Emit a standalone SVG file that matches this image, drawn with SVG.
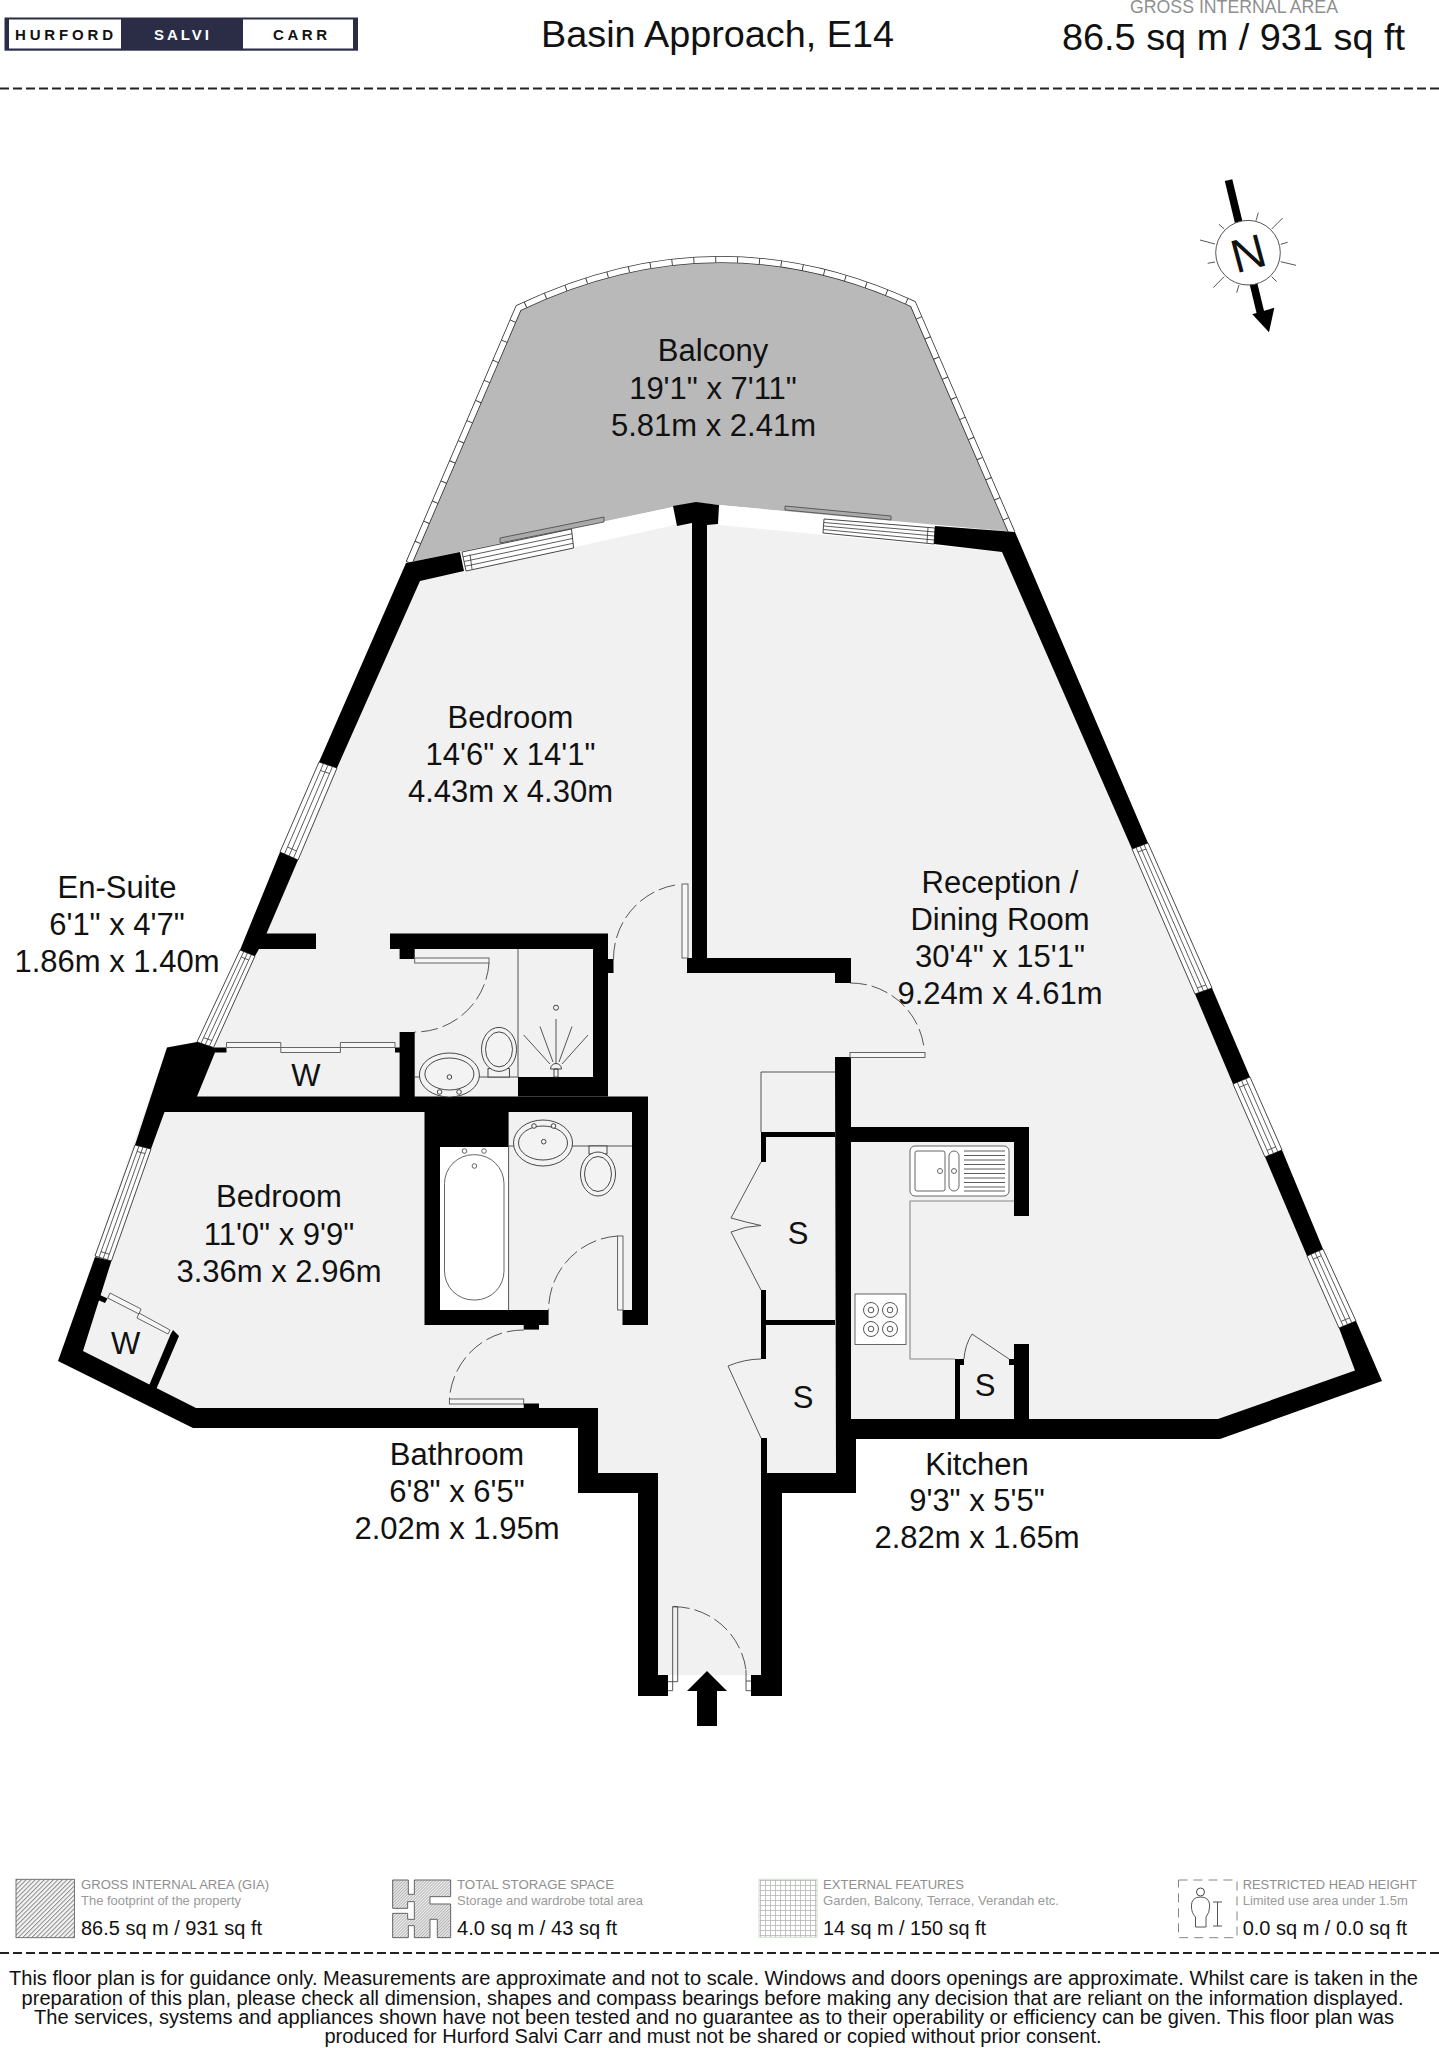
<svg xmlns="http://www.w3.org/2000/svg" width="1439" height="2048" viewBox="0 0 1439 2048">
<style>
text{font-family:"Liberation Sans",Arial,sans-serif;fill:#111}
.room{font-size:31px;text-anchor:middle}
.wall{fill:#000;stroke:none}
.win{fill:#fff;stroke:#333;stroke-width:.9}
.wl{fill:none;stroke:#333;stroke-width:.8}
.leaf{fill:#f6f6f6;stroke:#555;stroke-width:.9}
.arc{fill:none;stroke:#444;stroke-width:.9;stroke-dasharray:17 5}
.thin{fill:none;stroke:#444;stroke-width:.9}
.fx{fill:#f3f3f3;stroke:#333;stroke-width:.9}
.fw{fill:#fff;stroke:#555;stroke-width:.9}
.cnt{fill:none;stroke:#888;stroke-width:1.1}
.dash{fill:none;stroke:#222;stroke-width:2.2;stroke-dasharray:9 4}
.lh{font-size:13.2px;fill:#8f8f8f}
.ls{font-size:12.4px;fill:#9a9a9a}
.lv{font-size:19.6px}
.foot{font-size:20px;text-anchor:middle}
.logo{font-weight:bold;font-size:15px}
</style>
<defs>
<pattern id="hatch" width="3.2" height="3.2" patternUnits="userSpaceOnUse" patternTransform="rotate(-45)"><rect width="3.2" height="3.2" fill="#f4f4f4"/><rect width="3.2" height="1" fill="#8a8a8a"/></pattern>
<pattern id="grid" width="5" height="5" patternUnits="userSpaceOnUse"><rect width="5" height="5" fill="#fff"/><path d="M0 .5H5M.5 0V5" stroke="#b5b5b5" stroke-width=".8"/></pattern>
</defs>

<g id="header">
<rect x="4.500" y="17.500" width="353.500" height="33.200" fill="#2a2d45"/>
<rect x="9" y="19.500" width="112" height="29" fill="#fff"/>
<rect x="243" y="19.500" width="110" height="29" fill="#fff"/>
<text class="logo" x="15" y="39.500" textLength="98" lengthAdjust="spacing">HURFORD</text>
<text class="logo" x="154" y="39.500" textLength="55" lengthAdjust="spacing" style="fill:#fff">SALVI</text>
<text class="logo" x="273" y="39.500" textLength="54" lengthAdjust="spacing">CARR</text>
<text x="541" y="46.500" font-size="36.500" textLength="353" lengthAdjust="spacingAndGlyphs">Basin Approach, E14</text>
<text x="1130" y="13" font-size="17.500" textLength="208" lengthAdjust="spacingAndGlyphs" style="fill:#8f8f8f">GROSS INTERNAL AREA</text>
<text x="1062" y="49.500" font-size="37" textLength="343" lengthAdjust="spacingAndGlyphs">86.5 sq m / 931 sq ft</text>
<line class="dash" x1="0" y1="88.500" x2="1439" y2="88.500"/>
</g>

<g id="compass">
<path d="M1224.800 181L1232.300 179.200L1265 315L1257.500 317Z" fill="#000"/>
<path d="M1252.300 314.300L1274.300 307.700L1269 332.300Z" fill="#000"/>
<circle cx="1248" cy="252.700" r="32.300" fill="#fff" stroke="#555" stroke-width="1"/>
<path class="thin" d="M1282.700 218L1271.700 229M1296 265.300L1280.700 261.700M1200 240L1215 244M1213.300 287.700L1224 276.700M1258.300 212.700L1256 220.700M1287.700 242.300L1280.700 244.300M1276.700 281.700L1271.700 276.700M1236.700 292.700L1239 285M1207.700 263.300L1215 262M1219 224.300L1224.300 229"/>
<text transform="translate(1248 252.700) rotate(-15)" y="17" text-anchor="middle" font-size="47">N</text>
</g>

<g id="balcony">
<path d="M412 563L520 310Q718 215.500 912 307L1009 533L719 505L696 503L673 507Z" fill="#b9b9b9"/>
<path id="rail" d="M409 563L518.500 308Q717 213 913 304L1012 533" fill="none" stroke="#333" stroke-width="7"/>
<path d="M409 563L518.500 308Q717 213 913 304L1012 533" fill="none" stroke="#fff" stroke-width="5.400"/>
<path d="M409 563L518.500 308Q717 213 913 304L1012 533" fill="none" stroke="#333" stroke-width="6" stroke-dasharray=".9 21"/>
<text class="room" x="713" y="361">Balcony</text>
<text class="room" x="713" y="398.500">19'1" x 7'11"</text>
<text class="room" x="713.500" y="435.500">5.81m x 2.41m</text>
</g>

<g id="floor">
<path d="M406 563L673 507L696 503L719 505L1015 532L1382 1381L1220 1439L856 1439L856 1493L782 1493L782 1675L638 1675L638 1493L578 1493L578 1428L193 1428L58 1361L167 1047L197 1042Z" fill="#fff"/>
<path d="M420 581L675 525L719 525L1002 552L1382 1381L1220 1439L856 1439L856 1493L782 1493L782 1675L638 1675L638 1493L578 1493L578 1428L193 1428L58 1361L167 1047L197 1042Z" fill="#f1f1f1"/>
<rect x="440" y="1147" width="68.600" height="163" fill="#fff"/>
</g>

<g id="windows">
<path class="win" d="M462 552L571.500 529L573.600 548L466 571Z"/>
<path class="wl" d="M463 556.800L572 533.800M464 561.500L572.500 538.500M465 566.300L573 543.300M470 554.500L472 569"/>
<path class="win" d="M824 519L935 528L934 544L823 533Z"/>
<path class="wl" d="M824 522.500L935 532M824 526L934.500 536M823.500 529.500L934 540M928 527.500L927 543"/>
<path d="M500 538L604 517L604 522L500 543Z" fill="#aaa" stroke="#444" stroke-width=".8"/>
<path d="M785 506L891 516L891 520L785 510Z" fill="#aaa" stroke="#444" stroke-width=".8"/>
<path class="win" d="M319 762L280 852L298 860L337 768Z"/>
<path class="wl" d="M323.500 763.500L284.500 854M328 765L289 856M332.500 766.500L293.500 858M320.500 770.500L329.500 773.500M287.500 847L296.500 851"/>
<path class="win" d="M240 950L197 1042L213.500 1047.500L255 956Z"/>
<path class="wl" d="M243.800 951.500L201 1043.200M247.500 953L205.300 1044.600M251.300 954.500L209.400 1046M241.200 957L248.700 960M203.500 1037.700L211.900 1040.500"/>
<path class="win" d="M135 1145L95 1256L111.400 1261L151 1149Z"/>
<path class="wl" d="M139 1146L99 1257.300M143 1147L103.200 1258.500M147 1148L107.300 1259.800M137 1151.500L145 1153.500M101 1251.700L109.300 1254.200"/>
<path class="win" d="M1148 843L1212 988L1195 994L1132 849Z"/>
<path class="wl" d="M1144 844.500L1207.800 989.500M1140 846L1203.500 991M1136 847.500L1199.300 992.500M1146 849L1138 852M1205.700 985L1197.200 988"/>
<path class="win" d="M1250 1077L1282 1150L1265 1157L1233 1084Z"/>
<path class="wl" d="M1245.800 1078.800L1277.800 1151.800M1241.500 1080.500L1273.500 1153.500M1237.300 1082.300L1269.300 1155.300M1247.800 1083.800L1239.300 1087.300M1275.800 1146.800L1267.300 1150.300"/>
<path class="win" d="M1323 1249L1356 1321L1339 1328L1307 1256Z"/>
<path class="wl" d="M1319 1250.800L1351.800 1322.800M1315 1252.500L1347.500 1324.500M1311 1254.300L1343.300 1326.300M1321 1255.800L1313 1259.300M1349.800 1317.800L1341.300 1321.300"/>
</g>

<g id="walls">
<path class="wall" d="M406 563L460 552L464 571L420 581L337 768L319 762Z"/>
<path class="wall" d="M280 852L298 860L266.500 933.500L316 933.500L316 949L259 949L255 956L240 950Z"/>
<path class="wall" d="M167 1047.500L197 1042L213.500 1047.500L226.500 1047.500L226.500 1052.500L215 1052.500L197 1096.500L648 1096.500L648 1325L622.500 1325L622.500 1310L632 1310L632 1112L164.500 1112L151 1149L135 1145Z"/>
<rect class="wall" x="399.600" y="1032" width="15.100" height="65"/>
<rect class="wall" x="395" y="1047.500" width="5" height="5"/>
<path class="wall" d="M390 933.500L608 933.500L608 1096.500L518 1096.500L518 1077L593 1077L593 949L414.700 949L414.700 959L399.600 959L399.600 949L390 949Z"/>
<rect class="wall" x="608" y="959" width="5.500" height="14"/>
<path class="wall" d="M424.500 1112L508.600 1112L508.600 1147L440 1147L440 1310L548.600 1310L548.600 1325L424.500 1325Z"/>
<rect class="wall" x="523.700" y="1325" width="15.300" height="4.600"/>
<path class="wall" d="M95 1257L111.400 1261L83 1351L196 1408L523.700 1408L523.700 1403.500L539 1403.500L539 1408L598 1408L598 1473L658 1473L658 1675L668 1675L668 1696L638 1696L638 1493L578 1493L578 1428L193 1428L58 1361Z"/>
<path class="wall" d="M835 1057L851 1057L851 1127L1029 1127L1029 1216L1014 1216L1014 1142L851 1142L851 1419L1014 1419L1014 1344L1029 1344L1029 1419L1218 1419L1355 1370.500L1339 1328L1356 1321L1382 1381L1220 1439L856 1439L856 1493L782 1493L782 1696L751 1696L751 1675L761 1675L761 1438L767 1438L767 1473L836 1473Z"/>
<path class="wall" d="M935 526L1015 532L1148 843L1132 849L1002 552L934 544Z"/>
<path class="wall" d="M1212 988L1250 1077L1233 1084L1195 994Z"/>
<path class="wall" d="M1282 1150L1323 1249L1307 1256L1265 1157Z"/>
<path class="wall" d="M673 506L696 502L719 505L718 524L707 525L707 958L851 958L851 983L835 983L835 973L687 973L687 958L692 958L692 523L677 526Z"/>
<rect class="wall" x="761" y="1132" width="74" height="5"/>
<rect class="wall" x="761" y="1132" width="5" height="30"/>
<rect class="wall" x="761" y="1290" width="5" height="69"/>
<rect class="wall" x="766" y="1320" width="69" height="5"/>
<rect class="wall" x="955" y="1359" width="5" height="60"/>
<rect class="wall" x="960" y="1359" width="4" height="6"/>
<rect class="wall" x="1009" y="1359" width="5" height="6"/>
<path class="wall" d="M173 1330L179 1336L155 1392L148 1388L170.700 1334Z"/>
<path class="wall" d="M100 1295L107.500 1298.500L105 1303L98 1300Z"/>
</g>

<g id="doors">
<rect class="leaf" x="682" y="884" width="6" height="74"/>
<path class="arc" d="M675 885A75 75 0 0 0 613.500 959.500"/>
<rect class="leaf" x="850" y="1052.500" width="75" height="5"/>
<path class="arc" d="M850 983A74 74 0 0 1 924 1047.500"/>
<rect class="leaf" x="617.600" y="1236" width="5.400" height="74"/>
<path class="arc" d="M617.600 1236A74 74 0 0 0 548.600 1310"/>
<rect class="leaf" x="449.400" y="1399" width="74.300" height="5"/>
<path class="arc" d="M523.700 1330A74 74 0 0 0 449.400 1399"/>
<rect class="leaf" x="414.700" y="958" width="74.300" height="5"/>
<path class="arc" d="M489 963A74 74 0 0 1 414.700 1032"/>
<path class="thin" d="M672.700 1606.700H677.700V1681.700H668M672.700 1606.700V1690.700H668M746 1681H751M746 1670V1690.700H751"/>
<path class="arc" d="M672.700 1606.700A73 73 0 0 1 746 1670"/>
<path class="thin" d="M761 1162L731 1218Q745 1222 761 1225.500M761 1225.500Q745 1226 731 1232L761 1290M761 1359Q745 1359 728 1366L761 1438M964 1359Q965 1345 972 1334L1009 1359M761 1132V1072H835"/>
<path class="leaf" d="M226.500 1042.500H280.800V1047.500H226.500ZM280.800 1047.500H340.400V1052.500H280.800ZM340.400 1042.500H395V1047.500H340.400Z"/>
<path class="leaf" d="M110 1293L141 1309L139 1314L107.700 1298ZM139 1313L170 1330L168 1334L137 1318Z"/>
</g>

<g id="fixtures">
<path class="thin" d="M518 949V1077M414.700 1077H518M508.600 1147V1310M508.600 1146H632"/>
<ellipse class="fx" cx="449.400" cy="1075" rx="30" ry="22"/><ellipse class="fx" cx="449.400" cy="1074" rx="24.500" ry="16"/>
<circle class="fx" cx="439.600" cy="1092" r="2.300"/><circle class="fx" cx="459" cy="1092" r="2.300"/><circle class="fx" cx="449.400" cy="1077" r="2.300"/>
<rect class="fx" x="488" y="1068.600" width="21.400" height="8.400"/>
<ellipse class="fx" cx="499" cy="1049.400" rx="17.500" ry="22"/><ellipse class="fx" cx="499" cy="1049.400" rx="13.500" ry="17.500"/>
<circle class="fx" cx="556" cy="1007.700" r="2.500"/>
<path class="thin" d="M556 1064V1019M553 1062L540 1026.500M559 1062L572 1026.500M550 1064L523.700 1035M562 1064L588 1035"/>
<path class="fx" d="M550.500 1069a5.500 5.500 0 0 1 11 0zM554 1069h4v8h-4z"/>
<rect class="fw" x="444.500" y="1154.700" width="59.500" height="145.300" rx="29" ry="29"/>
<circle class="fw" cx="464.500" cy="1151" r="2.300"/><circle class="fw" cx="484" cy="1151" r="2.300"/><circle class="fw" cx="474.400" cy="1166" r="2.300"/>
<ellipse class="fx" cx="543" cy="1143" rx="29.500" ry="23"/><ellipse class="fx" cx="543" cy="1143" rx="24.500" ry="17"/>
<circle class="fx" cx="534" cy="1126" r="2.300"/><circle class="fx" cx="553.500" cy="1126" r="2.300"/><circle class="fx" cx="543.700" cy="1141.700" r="2.300"/>
<rect class="fx" x="589" y="1146" width="18" height="8"/>
<ellipse class="fx" cx="598" cy="1174" rx="17.500" ry="22"/><ellipse class="fx" cx="598" cy="1174" rx="13.500" ry="17.500"/>
<path class="cnt" d="M1014 1201H910V1359H955"/>
<rect class="fw" x="910" y="1146" width="99" height="50" rx="5"/>
<rect class="fw" x="915" y="1151" width="30" height="40" rx="2"/>
<rect class="fw" x="949" y="1151" width="10" height="40" rx="5"/>
<circle class="fw" cx="940" cy="1171" r="2.500"/><circle class="fw" cx="954" cy="1171" r="2.500"/>
<path class="wl" d="M964 1151H1005M964 1155.500H1005M964 1160H1005M964 1164.500H1005M964 1169H1005M964 1173.500H1005M964 1178H1005M964 1182.500H1005M964 1187H1005M964 1191H1005"/>
<rect class="fw" x="855" y="1294" width="51" height="50.500"/>
<g fill="none" stroke="#444" stroke-width=".9">
<circle cx="871" cy="1310" r="7.500"/><circle cx="871" cy="1310" r="2.800"/><circle cx="890" cy="1310" r="7.500"/><circle cx="890" cy="1310" r="2.800"/>
<circle cx="871" cy="1329" r="7.500"/><circle cx="871" cy="1329" r="2.800"/><circle cx="890" cy="1329" r="7.500"/><circle cx="890" cy="1329" r="2.800"/>
</g>
<path d="M707 1671L727 1691H717V1726H697V1691H687Z" fill="#000"/>
</g>

<g id="labels">
<text class="room"><tspan x="510.500" y="727.500">Bedroom</tspan><tspan x="510.500" y="764.500">14'6" x 14'1"</tspan><tspan x="510.500" y="801.500">4.43m x 4.30m</tspan></text>
<text class="room"><tspan x="117" y="898">En-Suite</tspan><tspan x="117" y="935">6'1" x 4'7"</tspan><tspan x="117" y="972">1.86m x 1.40m</tspan></text>
<text class="room"><tspan x="1000" y="892.500">Reception /</tspan><tspan x="1000" y="930">Dining Room</tspan><tspan x="1000" y="967">30'4" x 15'1"</tspan><tspan x="1000" y="1004">9.24m x 4.61m</tspan></text>
<text class="room"><tspan x="279" y="1207">Bedroom</tspan><tspan x="279" y="1245">11'0" x 9'9"</tspan><tspan x="279" y="1282">3.36m x 2.96m</tspan></text>
<text class="room"><tspan x="457" y="1465">Bathroom</tspan><tspan x="457" y="1502">6'8" x 6'5"</tspan><tspan x="457" y="1539">2.02m x 1.95m</tspan></text>
<text class="room"><tspan x="977" y="1474.500">Kitchen</tspan><tspan x="977" y="1511">9'3" x 5'5"</tspan><tspan x="977" y="1548">2.82m x 1.65m</tspan></text>
<text class="room" x="306" y="1085.800">W</text>
<text class="room" x="125.700" y="1353.500">W</text>
<text class="room" x="798" y="1244">S</text>
<text class="room" x="803" y="1408">S</text>
<text class="room" x="985" y="1396">S</text>
</g>

<g id="legend">
<rect x="16" y="1879.300" width="58.400" height="58.400" fill="url(#hatch)" stroke="#666" stroke-width=".9"/>
<text class="lh" x="81" y="1889" textLength="188" lengthAdjust="spacingAndGlyphs">GROSS INTERNAL AREA (GIA)</text>
<text class="ls" x="81" y="1905" textLength="160" lengthAdjust="spacingAndGlyphs">The footprint of the property</text>
<text class="lv" x="81" y="1935" textLength="181" lengthAdjust="spacingAndGlyphs">86.5 sq m / 931 sq ft</text>
<path transform="translate(385 1870) scale(.3333)" d="M23 30H70V73H88V30H197V80H135V102H197V203H157V148H135V203H88V167H70V203H23V130H68V148H88V95H68V115H23Z" fill="url(#hatch)" stroke="#555" stroke-width="2.700"/>
<text class="lh" x="457" y="1889" textLength="157" lengthAdjust="spacingAndGlyphs">TOTAL STORAGE SPACE</text>
<text class="ls" x="457" y="1905" textLength="186" lengthAdjust="spacingAndGlyphs">Storage and wardrobe total area</text>
<text class="lv" x="457" y="1935" textLength="160" lengthAdjust="spacingAndGlyphs">4.0 sq m / 43 sq ft</text>
<rect x="759" y="1879.300" width="58" height="58" fill="url(#grid)" stroke="#d5e3d2" stroke-width="1.200"/>
<text class="lh" x="823" y="1889" textLength="141" lengthAdjust="spacingAndGlyphs">EXTERNAL FEATURES</text>
<text class="ls" x="823" y="1905" textLength="236" lengthAdjust="spacingAndGlyphs">Garden, Balcony, Terrace, Verandah etc.</text>
<text class="lv" x="823" y="1935" textLength="163" lengthAdjust="spacingAndGlyphs">14 sq m / 150 sq ft</text>
<rect x="1178.500" y="1880" width="58.500" height="57.700" fill="none" stroke="#777" stroke-width=".9" stroke-dasharray="9 6"/>
<circle cx="1200.500" cy="1892" r="4" fill="none" stroke="#333" stroke-width=".9"/>
<path class="thin" d="M1195.500 1927V1917Q1191.400 1913 1191.400 1906Q1191.400 1897 1200.500 1897Q1209.700 1897 1209.700 1906Q1209.700 1913 1206 1917V1927ZM1217.500 1902V1926M1213 1902H1222M1213 1926H1222"/>
<text class="lh" x="1242.700" y="1889" textLength="174.300" lengthAdjust="spacingAndGlyphs">RESTRICTED HEAD HEIGHT</text>
<text class="ls" x="1242.700" y="1905" textLength="165" lengthAdjust="spacingAndGlyphs">Limited use area under 1.5m</text>
<text class="lv" x="1242.700" y="1935" textLength="164.300" lengthAdjust="spacingAndGlyphs">0.0 sq m / 0.0 sq ft</text>
<line class="dash" x1="0" y1="1953" x2="1439" y2="1953"/>
</g>

<g id="footer">
<text class="foot" x="713.500" y="1985" textLength="1409" lengthAdjust="spacingAndGlyphs">This floor plan is for guidance only. Measurements are approximate and not to scale. Windows and doors openings are approximate. Whilst care is taken in the</text>
<text class="foot" x="712.600" y="2004.500" textLength="1382" lengthAdjust="spacingAndGlyphs">preparation of this plan, please check all dimension, shapes and compass bearings before making any decision that are reliant on the information displayed.</text>
<text class="foot" x="714" y="2024" textLength="1360" lengthAdjust="spacingAndGlyphs">The services, systems and appliances shown have not been tested and no guarantee as to their operability or efficiency can be given. This floor plan was</text>
<text class="foot" x="713" y="2043" textLength="777" lengthAdjust="spacingAndGlyphs">produced for Hurford Salvi Carr and must not be shared or copied without prior consent.</text>
</g>
</svg>
